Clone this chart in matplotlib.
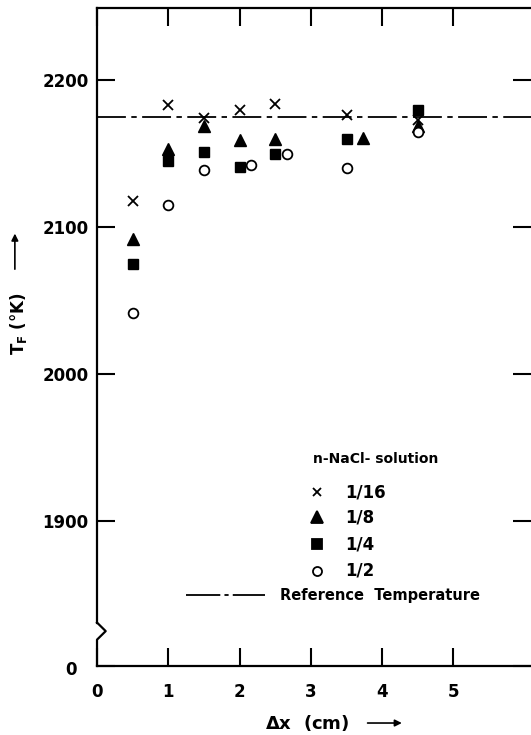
import matplotlib
matplotlib.use('Agg')
import matplotlib.pyplot as plt
from matplotlib.transforms import ScaledTranslation

# Datos (Delta x en cm, T_F en K)
x_16 = [0.5, 1.0, 1.5, 2.0, 2.5, 3.5, 4.5]
t_16 = [2118, 2183, 2174, 2180, 2184, 2176, 2173]

x_8 = [0.5, 1.0, 1.5, 2.0, 2.5, 3.73, 4.5]
t_8 = [2092, 2153, 2169, 2159, 2160, 2161, 2169]

x_4 = [0.5, 1.0, 1.5, 2.0, 2.5, 3.5, 4.5]
t_4 = [2075, 2145, 2151, 2141, 2150, 2160, 2180]

x_2 = [0.5, 1.0, 1.5, 2.16, 2.67, 3.5, 4.5]
t_2 = [2042, 2115, 2139, 2142, 2150, 2140, 2165]

t_ref = 2175
y_ticks = [1900, 2000, 2100, 2200]
x_ticks = [0, 1, 2, 3, 4, 5]
y_min, y_max = 1801.6, 2249
x_max = 6.087

plt.rcParams['font.family'] = ['DejaVu Sans']
plt.rcParams['font.weight'] = 'bold'

fig = plt.figure(figsize=(5.31, 7.35), dpi=100)
ax = fig.add_axes([0.1827, 0.0939, 1 - 0.1827, 0.895])

ax.plot(x_16, t_16, 'x', color='black', ms=6.5, mew=1.3)
ax.plot(x_8, t_8, '^', color='black', ms=8.5)
ax.plot(x_4, t_4, 's', color='black', ms=7)
ax.plot(x_2, t_2, 'o', mfc='white', mec='black', ms=7, mew=1.3)
ax.axhline(t_ref, color='black', lw=1.3, dashes=[16, 3, 3, 3])

ax.set_xlim(0, x_max)
ax.set_ylim(y_min, y_max)
ax.set_xticks(x_ticks)
ax.set_xticklabels([str(v) for v in x_ticks])
ax.set_yticks([y_min] + y_ticks)
ax.set_yticklabels(['0'] + [str(v) for v in y_ticks])
ax.tick_params(axis='both', direction='in', length=13, width=1.5, labelsize=12)
ax.tick_params(axis='x', pad=12, top=True)
ax.tick_params(axis='y', pad=6, right=True)
for s in ax.spines.values():
    s.set_linewidth(1.6)
ax.spines['left'].set_visible(False)
ax.spines['right'].set_visible(False)

# el "0" del eje y va un poco mas a la izquierda
lab0 = ax.get_yticklabels()[0]
lab0.set_transform(lab0.get_transform() + ScaledTranslation(-12 / 100, -2 / 100, fig.dpi_scale_trans))

# eje izquierdo con corte
kw = dict(transform=ax.transAxes, color='black', lw=1.6, clip_on=False)
ax.plot([0, 0], [1, 0.066], **kw)
ax.plot([0, 0.02, 0, 0], [0.066, 0.053, 0.04, 0], **kw)

# leyenda manual
ax.text(0.498, 0.3146, 'n-NaCl- solution', transform=ax.transAxes, fontsize=10, va='center')
mk = [('x', 'black', 'black', 6), ('^', 'black', 'black', 8), ('s', 'black', 'black', 6.5), ('o', 'white', 'black', 6.5)]
labs = ['1/16', '1/8', '1/4', '1/2']
ys = [0.2644, 0.2264, 0.1854, 0.1444]
for (m, fc, ec, ms), lab, yy in zip(mk, labs, ys):
    ax.plot([0.507], [yy], m, mfc=fc, mec=ec, color=ec, ms=ms, mew=1.3, transform=ax.transAxes, clip_on=False)
    ax.text(0.571, yy, lab, transform=ax.transAxes, fontsize=12, va='center')
ax.plot([0.205, 0.387], [0.1079, 0.1079], color='black', lw=1.3, dashes=[19, 2.3, 2.3, 2.3], transform=ax.transAxes)
ax.text(0.4217, 0.1079, 'Reference  Temperature', transform=ax.transAxes, fontsize=10.5, va='center')

# etiquetas de ejes con flechas
fig.text(0.034, 0.56, r'T$_{\mathbf{F}}$ (°K)', rotation=90, ha='center', va='center', fontsize=12)
fig.add_artist(matplotlib.patches.FancyArrowPatch((0.028, 0.630), (0.028, 0.686), transform=fig.transFigure,
                                                  arrowstyle='-|>', mutation_scale=10, color='black', lw=1.2))
fig.text(0.578, 0.0163, r'$\Delta$x  (cm)', ha='center', va='center', fontsize=13)
fig.add_artist(matplotlib.patches.FancyArrowPatch((0.687, 0.0163), (0.762, 0.0163), transform=fig.transFigure,
                                                  arrowstyle='-|>', mutation_scale=10, color='black', lw=1.2))

fig.savefig('out.png', dpi=100)
